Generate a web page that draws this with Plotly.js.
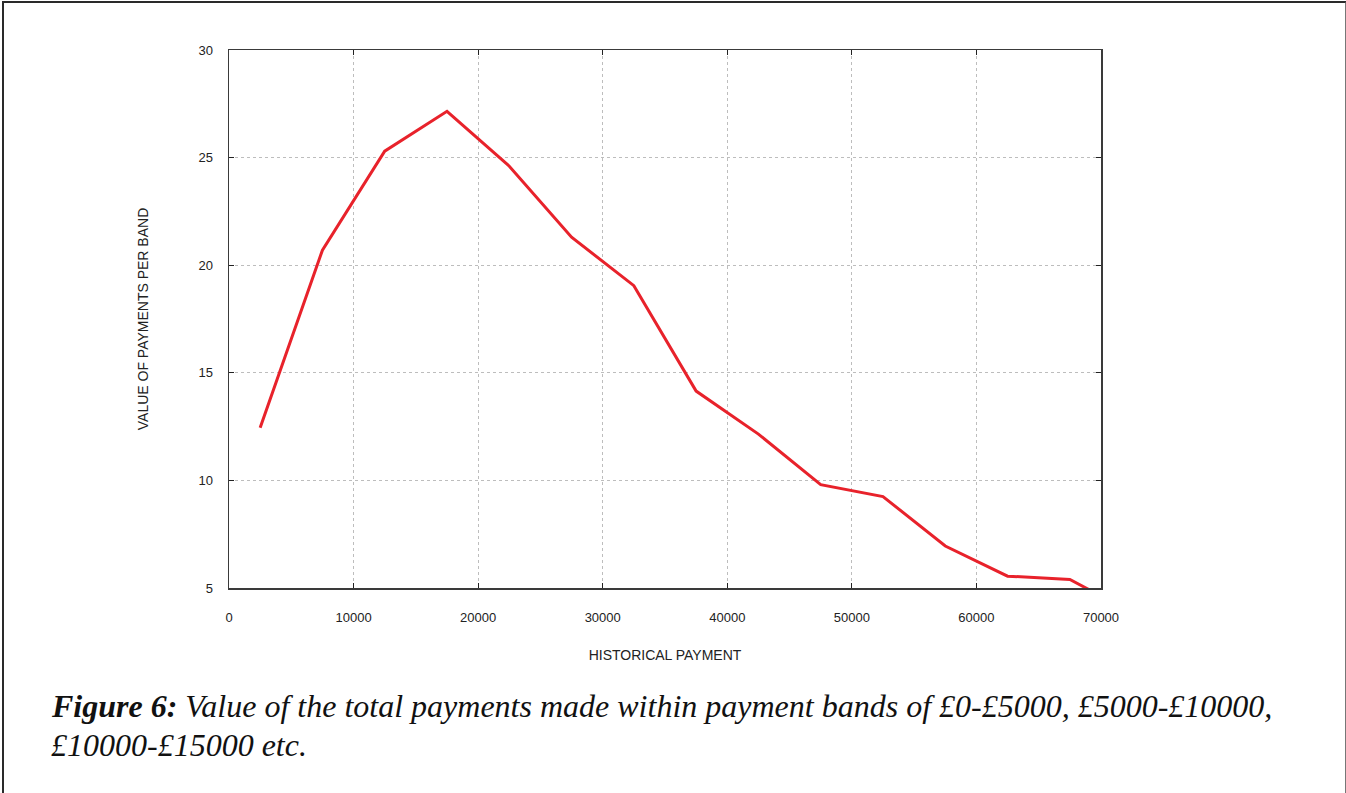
<!DOCTYPE html>
<html>
<head>
<meta charset="utf-8">
<script src="https://cdn.plot.ly/plotly-3.0.1.min.js"></script>
<style>
html,body{margin:0;padding:0;background:#fff;}
#wrap{position:relative;width:1346px;height:793px;overflow:hidden;}
#chart{position:absolute;left:0;top:0;width:1346px;height:793px;}
#frame{position:absolute;left:2px;top:1px;width:1341px;height:800px;border-left:2px solid #2a2a2a;border-top:2px solid #2a2a2a;border-right:2px solid #777;pointer-events:none;}
</style>
</head>
<body>
<div id="wrap"><div id="chart"></div><div id="frame"></div></div>
<script>
const bandMidpoints = [2500, 7500, 12500, 17500, 22500, 27500, 32500, 37500, 42500, 47500, 52500, 57500, 62500, 67500, 72500];
const paymentValues = [12.45, 20.7, 25.3, 27.15, 24.6, 21.3, 19.05, 14.15, 12.15, 9.8, 9.25, 6.95, 5.55, 5.4, 3.85];
const xTickVals = [0, 10000, 20000, 30000, 40000, 50000, 60000, 70000];
const yTickVals = [5, 10, 15, 20, 25, 30];

const tickFont = {family: 'Liberation Sans, Arial, sans-serif', size: 13, color: '#222'};
const titleFont = {family: 'Liberation Sans, Arial, sans-serif', size: 14, color: '#222'};

const trace = {
  x: bandMidpoints,
  y: paymentValues,
  type: 'scatter',
  mode: 'lines',
  line: {color: '#e8222b', width: 3},
  hoverinfo: 'x+y'
};

const layout = {
  width: 1346,
  height: 793,
  margin: {l: 229, r: 245, t: 50, b: 205},
  paper_bgcolor: '#fff',
  plot_bgcolor: '#fff',
  showlegend: false,
  xaxis: {
    range: [0, 70000],
    tickvals: xTickVals,
    ticktext: xTickVals.map(String),
    showgrid: true,
    gridcolor: '#bdbdbd',
    griddash: '3px,3px',
    gridwidth: 1,
    zeroline: false,
    showline: true,
    linecolor: '#3a3a3a',
    linewidth: 1.5,
    mirror: 'ticks',
    ticks: 'inside',
    ticklen: 5,
    tickcolor: '#222',
    tickfont: tickFont,
    ticklabelstandoff: 17,
    title: {text: 'HISTORICAL PAYMENT', font: titleFont, standoff: 26}
  },
  yaxis: {
    range: [5, 30],
    tickvals: yTickVals,
    ticktext: yTickVals.map(String),
    showgrid: true,
    gridcolor: '#bdbdbd',
    griddash: '3px,3px',
    gridwidth: 1,
    zeroline: false,
    showline: true,
    linecolor: '#3a3a3a',
    linewidth: 1.5,
    mirror: 'ticks',
    ticks: 'inside',
    ticklen: 5,
    tickcolor: '#222',
    tickfont: tickFont,
    ticklabelstandoff: 12,
    title: {text: 'VALUE OF PAYMENTS PER BAND', font: titleFont, standoff: 46}
  },
  annotations: [
    {
      xref: 'paper', yref: 'paper',
      x: -180/872, y: -118/538,
      xanchor: 'left', yanchor: 'middle',
      showarrow: false, align: 'left',
      text: '<b><i>Figure 6:</i></b><i> Value of the total payments made within payment bands of £0-£5000, £5000-£10000,</i>',
      font: {family: 'Liberation Serif, Times New Roman, serif', size: 32, color: '#111'}
    },
    {
      xref: 'paper', yref: 'paper',
      x: -180/872, y: -157/538,
      xanchor: 'left', yanchor: 'middle',
      showarrow: false, align: 'left',
      text: '<i>£10000-£15000 etc.</i>',
      font: {family: 'Liberation Serif, Times New Roman, serif', size: 32, color: '#111'}
    }
  ]
};

Plotly.newPlot('chart', [trace], layout, {displayModeBar: false, staticPlot: true});
</script>
</body>
</html>
